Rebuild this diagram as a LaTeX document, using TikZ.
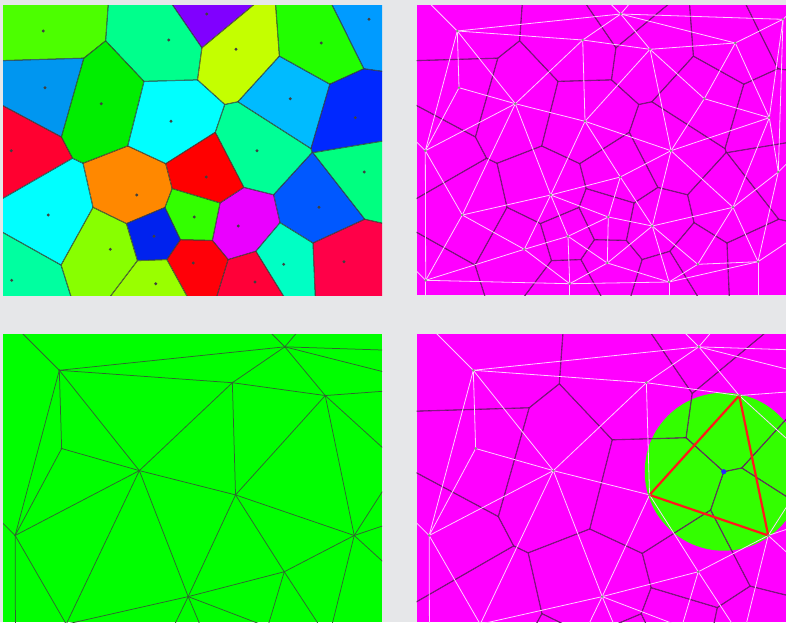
\documentclass[tikz,border=0pt]{standalone}
\usetikzlibrary{calc}

\definecolor{paper}{RGB}{230,231,233}
\definecolor{magbg}{RGB}{255,0,255}
\definecolor{greenbg}{RGB}{0,255,0}
\definecolor{ringgreen}{RGB}{51,255,0}
\definecolor{wline}{RGB}{255,210,255}
\definecolor{vline}{RGB}{100,25,100}
\definecolor{gline}{RGB}{50,100,50}
\definecolor{rim}{RGB}{55,62,55}
\definecolor{trired}{RGB}{255,25,25}
\definecolor{hubblue}{RGB}{40,40,255}
\definecolor{cell1}{HTML}{4CFF00}
\definecolor{cell2}{HTML}{00FF8C}
\definecolor{cell3}{HTML}{8000FF}
\definecolor{cell4}{HTML}{C4FF00}
\definecolor{cell5}{HTML}{22FF00}
\definecolor{cell6}{HTML}{009BFF}
\definecolor{cell7}{HTML}{0096F0}
\definecolor{cell8}{HTML}{00EE00}
\definecolor{cell9}{HTML}{00FFFF}
\definecolor{cell10}{HTML}{00BBFF}
\definecolor{cell11}{HTML}{0028FF}
\definecolor{cell12}{HTML}{FF0030}
\definecolor{cell13}{HTML}{00FF96}
\definecolor{cell14}{HTML}{00FF80}
\definecolor{cell15}{HTML}{FF0000}
\definecolor{cell16}{HTML}{FF8800}
\definecolor{cell17}{HTML}{0058FF}
\definecolor{cell18}{HTML}{00FFFF}
\definecolor{cell19}{HTML}{33FF00}
\definecolor{cell20}{HTML}{EA00FF}
\definecolor{cell21}{HTML}{0022EE}
\definecolor{cell22}{HTML}{88FF00}
\definecolor{cell23}{HTML}{FF0008}
\definecolor{cell24}{HTML}{00FFC4}
\definecolor{cell25}{HTML}{FF0048}
\definecolor{cell26}{HTML}{00FFA0}
\definecolor{cell27}{HTML}{99FF00}
\definecolor{cell28}{HTML}{FF0038}

% site / x / y / neighbours
\def\sitelist{1/43.3/31/{2,3,7,8,12},
2/168.7/40/{1,3,4,8,9},
3/206.7/14/{1,2,4,5,6},
4/236/49.3/{2,3,5,9,10,13},
5/321.3/43/{3,4,6,10,11},
6/369/19.3/{3,5,11,14},
7/45/87.7/{1,8,12},
8/101.3/103.7/{1,2,7,9,12,16,18},
9/171/121.3/{2,4,8,13,15,16},
10/290.3/98.7/{4,5,11,13},
11/355.3/117.7/{5,6,10,13,14,17},
12/11.3/150.7/{1,7,8,18,26},
13/257/150.7/{4,9,10,11,14,15,17,20},
14/364.3/172/{6,11,13,17,25},
15/206.3/177/{9,13,16,19,20},
16/136.7/195/{8,9,15,18,19,21,22},
17/319/207.3/{11,13,14,20,24,25},
18/48.3/215/{8,12,16,22,26},
19/194.3/217/{15,16,20,21,23},
20/238.3/226/{13,15,17,19,23,24,28},
21/154/236.3/{16,19,22,23,27},
22/110.3/249.3/{16,18,21,26,27},
23/193.3/263/{19,20,21,27,28},
24/283.7/264.3/{17,20,25,28},
25/344/261.7/{14,17,24,28},
26/11.7/280.3/{12,18,22,27},
27/155.7/283.7/{21,22,23,26,28},
28/255/282/{20,23,24,25,27}}

\def\edgelist{1/2,1/3,1/7,1/8,1/12,2/3,2/4,2/8,2/9,3/4,3/5,3/6,4/5,4/9,4/10,4/13,
5/6,5/10,5/11,6/11,6/14,7/8,7/12,8/9,8/12,8/16,8/18,9/13,9/15,9/16,10/11,10/13,
11/13,11/14,11/17,12/18,12/26,13/15,13/17,13/20,14/17,14/25,15/16,15/19,15/20,
16/18,16/19,16/21,16/22,17/20,17/24,17/25,18/22,18/26,19/20,19/21,19/23,20/23,
20/24,20/28,21/22,21/23,21/27,22/26,22/27,23/27,23/28,24/25,24/28,25/28,26/27,27/28}

% hull sites to the far corners
\def\ghostlist{1/-16.7/-29,3/146.7/-46,3/257.7/-46,6/429/-40.7,12/-48.7/90.7,
14/424.3/112,25/404/221.7,25/344/321.7,26/-48.3/220.3,26/11.7/340.3,
27/155.7/343.7,28/255/342}

\newcommand\placesites[3]{%
  \begin{scope}[shift={(#1,#2)},scale=#3]
    \foreach \i/\x/\y/\nb in \sitelist {\coordinate (v\i) at (\x,\y);}
    \foreach \i/\gx/\gy [count=\k] in \ghostlist {\coordinate (g\k) at (\gx,\gy);}
    \coordinate (cc) at (224.77,104.49);
  \end{scope}}

\newcommand\voronoi[2]{%
  \foreach \i/\x/\y/\nb in \sitelist {%
    \begin{scope}
      \foreach \j in \nb {%
        \coordinate (mid) at ($(v\i)!.5!(v\j)$);
        \clip ($(mid)!2000pt!90:(v\i)$) -- ($(mid)!2000pt!(v\i)$)
          -- ($(mid)!2000pt!-90:(v\i)$) -- cycle;}
      #1
      \foreach \j in \nb {%
        \coordinate (mid) at ($(v\i)!.5!(v\j)$);
        \draw[#2] ($(mid)!2000pt!90:(v\i)$) -- ($(mid)!2000pt!-90:(v\i)$);}
    \end{scope}}}

\begin{document}
\begin{tikzpicture}[x=1pt,y=-1pt,
  cellrim/.style={line width=1pt,draw=rim},
  vorrim/.style={line width=1.1pt,draw=vline},
  whiteedge/.style={line width=0.8pt,draw=wline},
  greenedge/.style={line width=0.75pt,draw=gline},
  tri/.style={line width=2.2pt,draw=trired,line join=round},
  sitedot/.style={fill=black!75},
  pinkdot/.style={fill={rgb,255:red,125;green,155;blue,125}},
  greendot/.style={fill=gline}]
\useasboundingbox (0,0) rectangle (786,622);
\fill[paper] (0,0) rectangle (786,622);

% coloured cells
\begin{scope}
\clip (3,5) rectangle (382,295);
\placesites{0}{0}{1}
\voronoi{\fill[cell\i] (0,0) rectangle (786,622);}{cellrim}
\foreach \i/\x/\y/\nb in \sitelist {\fill[sitedot] (v\i) circle[radius=1.6pt];}
\end{scope}

% cells and triangles
\begin{scope}
\clip (416.7,5) rectangle (786,295);
\fill[magbg] (416.7,5) rectangle (786,295);
\placesites{414}{0}{1}
\voronoi{}{vorrim}
\foreach \a/\b in \edgelist {\draw[whiteedge] (v\a) -- (v\b);}
\foreach \i/\gx/\gy [count=\k] in \ghostlist {\draw[whiteedge] (v\i) -- (g\k);}
\foreach \i/\x/\y/\nb in \sitelist {\fill[pinkdot] (v\i) circle[radius=1.4pt];}
\end{scope}

% triangles, closer
\begin{scope}
\clip (3,334) rectangle (382,622);
\fill[greenbg] (3,334) rectangle (382,622);
\placesites{-0.45}{327.5}{1.38}
\foreach \a/\b in \edgelist {\draw[greenedge] (v\a) -- (v\b);}
\foreach \i/\gx/\gy [count=\k] in \ghostlist {\draw[greenedge] (v\i) -- (g\k);}
\foreach \i/\x/\y/\nb in \sitelist {\fill[greendot] (v\i) circle[radius=1pt];}
\end{scope}

% one triangle and its circle
\begin{scope}
\clip (416.7,334) rectangle (786,622);
\fill[magbg] (416.7,334) rectangle (786,622);
\placesites{413.55}{327.5}{1.38}
\fill[ringgreen] (cc) circle[radius=79pt];
\voronoi{}{vorrim}
\foreach \a/\b in \edgelist {\draw[whiteedge] (v\a) -- (v\b);}
\foreach \i/\gx/\gy [count=\k] in \ghostlist {\draw[whiteedge] (v\i) -- (g\k);}
\draw[tri] (v4) -- (v9) -- (v13) -- cycle;
\foreach \i/\x/\y/\nb in \sitelist {\fill[pinkdot] (v\i) circle[radius=1.4pt];}
\fill[hubblue] (cc) circle[radius=2.6pt];
\end{scope}
\end{tikzpicture}
\end{document}
